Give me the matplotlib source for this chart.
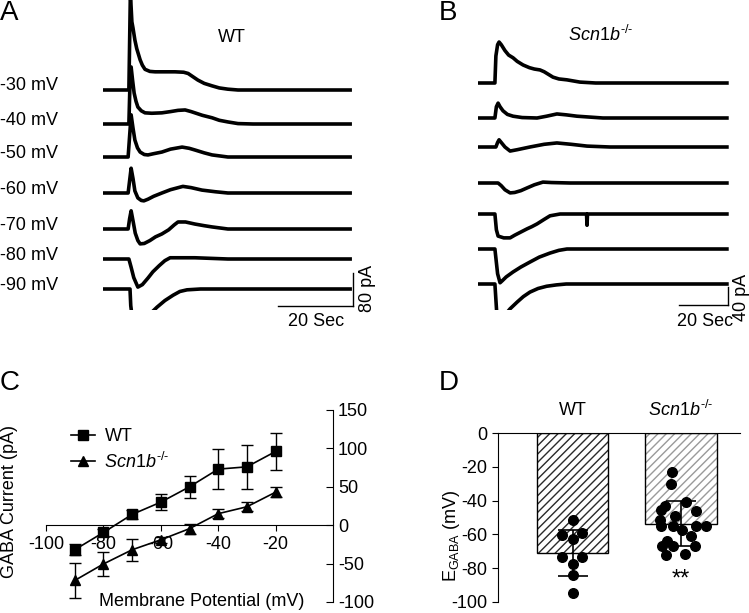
import matplotlib
matplotlib.use("Agg")
import matplotlib.pyplot as plt
import numpy as np

plt.rcParams['font.family'] = 'Liberation Sans'
plt.rcParams['mathtext.fontset'] = 'custom'
plt.rcParams['mathtext.rm'] = 'Liberation Sans'
plt.rcParams['mathtext.it'] = 'Liberation Sans:italic'
plt.rcParams['axes.unicode_minus'] = False
plt.rcParams['font.size'] = 13

W, H = 749, 613
KO = r'$\mathit{Scn1b}^{\text{-/-}}$'
FS = 13

# ---------- data ----------
# panel A (WT) traces: time (s) / current (pA)
wt_labels = ['-30 mV', '-40 mV', '-50 mV', '-60 mV', '-70 mV', '-80 mV', '-90 mV']
wt_t = [
    [0, 6.9, 7.3, 7.7, 8.0, 8.5, 9.0, 9.9, 10.5, 11.2, 12.5, 13.9, 19.2, 21.5, 22.7, 24.0, 25.3, 27.0,
     29.1, 31.0, 33.3, 36.0, 65.9],
    [0, 6.9, 7.2, 7.5, 7.9, 8.3, 8.8, 9.3, 10.2, 11.2, 13.0, 15.7, 18.0, 20.0, 21.9, 23.5, 24.5, 26.5,
     29.1, 31.0, 33.3, 36.0, 40.0, 65.9],
    [0, 6.7, 7.5, 8.0, 8.5, 9.2, 9.9, 11.0, 12.0, 13.5, 15.7, 18.0, 21.1, 23.0, 24.5, 27.0, 29.1, 33.3, 65.9],
    [0, 6.7, 7.1, 7.5, 8.0, 8.5, 9.3, 10.2, 10.9, 12.0, 13.5, 15.7, 18.0, 21.3, 23.5, 26.4, 30.0, 33.3, 65.9],
    [0, 6.7, 7.1, 7.5, 8.0, 8.6, 9.3, 9.9, 11.0, 12.5, 14.0, 15.7, 17.5, 19.0, 20.0, 22.0, 24.5, 27.0,
     29.1, 33.3, 65.9],
    [0, 6.9, 7.5, 8.2, 9.3, 10.5, 12.0, 13.3, 15.0, 16.5, 17.9, 24.5, 33.3, 65.9],
    [0, 7.2, 7.4, 7.8, 8.3, 9.1, 10.5, 12.0, 14.4, 16.5, 18.7, 20.5, 22.4, 26.0, 65.9],
]
wt_i = [
    [0, 0, 235, 165, 150, 121, 100, 73, 60, 50, 45, 44, 44, 43, 40, 32, 24, 16, 10, 5, 2, 0, 0],
    [0, 0, 100, 138, 105, 75, 55, 41, 32, 27, 26, 27, 30, 33, 34, 30, 27, 21, 15, 9, 5, 1, 0, 0],
    [0, 0, 102, 70, 41, 22, 12, 6, 5, 8, 12, 19, 24, 21, 17, 10, 5, 0, 0],
    [0, 0, 30, 60, 35, 5, -12, -18, -19, -15, -8, 0, 8, 16, 13, 7, 3, 0, 0],
    [0, 0, 25, 44, 20, -10, -28, -36, -35, -28, -19, -12, -2, 10, 17, 17, 12, 8, 5, 0, 0],
    [0, 0, -20, -45, -68, -62, -46, -31, -16, -4, 3, 3, 0, 0],
    [0, 0, -40, -70, -85, -92, -80, -65, -44, -28, -15, -6, -2, 0, 0],
]

# panel B (Scn1b-/-) traces
ko_t = [
    [0, 6.9, 7.3, 8.0, 8.6, 9.5, 11.0, 12.5, 14.3, 16.0, 18.4, 21.0, 23.0, 25.3, 27.0, 28.5, 30.6, 33.0,
     36.3, 41.6, 48.0, 101.6],
    [0, 6.9, 7.5, 8.2, 9.0, 10.2, 12.0, 14.3, 18.0, 24.1, 28.0, 32.2, 36.0, 40.4, 51.0, 101.6],
    [0, 7.3, 8.0, 8.6, 9.5, 11.0, 13.1, 16.0, 21.2, 27.0, 32.2, 38.0, 44.5, 53.9, 101.6],
    [0, 8.2, 9.5, 11.0, 13.1, 15.0, 17.5, 20.0, 23.0, 26.5, 30.0, 37.6, 101.6],
    [0, 6.9, 7.5, 8.2, 10.5, 13.1, 15.0, 17.5, 20.0, 22.0, 24.1, 27.0, 29.4, 33.5, 44.3, 44.5, 44.7, 101.6],
    [0, 6.9, 8.0, 9.0, 10.0, 11.5, 14.3, 17.5, 21.2, 25.0, 29.4, 33.0, 36.3, 101.6],
    [0, 6.9, 7.6, 8.2, 9.2, 10.5, 13.1, 16.0, 18.5, 21.2, 24.5, 28.0, 32.0, 36.0, 101.6],
]
ko_i = [
    [0, 0, 60, 85, 91, 85, 72, 62, 56, 48, 40, 34, 31, 29, 25, 20, 13, 9, 7, 2, 0, 0],
    [0, 0, 25, 33, 25, 16, 8, 4, 1, 0, 4, 9, 7, 4, 0, 0],
    [0, 0, 10, 16, 10, 0, -9, -6, 0, 6, 9, 6, 2, 0, 0],
    [0, 0, -6, -15, -22, -21, -17, -11, -4, 2, 1, 0, 0],
    [0, 0, -35, -49, -53, -53, -47, -40, -33, -28, -22, -12, -4, 0, 0, -25, 0, 0],
    [0, 0, -55, -75, -70, -62, -51, -40, -29, -18, -9, -3, 0, 0],
    [0, 0, -60, -95, -85, -72, -55, -40, -28, -18, -10, -5, -2, 0, 0],
]

# panel C: I-V
iv_v = [-90, -80, -70, -60, -50, -40, -30, -20]
iv_wt = [-32, -9.5, 14, 30, 50, 73, 76, 96]
iv_wt_err = [7, 5, 5.5, 10, 14.5, 26.5, 29, 24.5]
iv_ko = [-72, -50.5, -32, -19, -4.5, 15, 24, 43]
iv_ko_err = [23, 15.5, 14.5, 4, 6.5, 6, 6, 6.5]

# panel D: E_GABA
groups = ['WT', KO]
egaba_mean = [-71, -53.6]
egaba_sd = [13.6, 13.2]
wt_dots = [-51.7, -60.4, -59.2, -62.7, -73.6, -73.6, -77.5, -83.8, -94.7]
wt_dx = [0, -0.094, 0.09, 0, -0.094, 0.09, 0, 0, 0]
ko_dots = [-23.3, -30.2, -40.8, -43.0, -45.4, -46.4, -48.9, -51.3, -54.8, -54.8,
           -54.8, -54.8, -57.2, -60.7, -64.1, -67.1, -67.1, -67.1, -72.2, -71.4]
ko_dx = [-0.086, -0.092, 0.046, -0.147, -0.184, 0.138, -0.055, -0.194, -0.184, -0.077,
         0.138, 0.23, 0.006, 0.092, -0.132, -0.178, -0.071, 0.129, -0.138, 0.037]


def rect(x0, y0, x1, y1):
    return [x0 / W, 1 - y1 / H, (x1 - x0) / W, (y1 - y0) / H]


def ftext(x, y, s, **kw):
    fig.text(x / W, 1 - y / H, s, **kw)


fig = plt.figure(figsize=(W / 100, H / 100), dpi=100)

# ---------- A ----------
a_base = [90, 124, 157, 193, 229, 259, 289]
a_pa = 2.42   # pA per pixel
axA = fig.add_axes(rect(103, 0, 353, 310))
axA.set_xlim(0, 250 / 3.75)
axA.set_ylim(0, 310 * a_pa)
axA.axis('off')
for t, cur, b, lab in zip(wt_t, wt_i, a_base, wt_labels):
    off = (310 - b) * a_pa
    axA.plot(t, np.array(cur) + off, color='black', lw=2.6, solid_joinstyle='round')
    ftext(0, b - 4, lab, ha='left', va='center', fontsize=FS)
sb_y = (310 - 306) * a_pa
axA.plot([46.7, 66.7], [sb_y, sb_y], color='black', lw=1, clip_on=False)
axA.plot([66.7, 66.7], [sb_y, sb_y + 80], color='black', lw=1, clip_on=False)
ftext(316, 322, '20 Sec', ha='center', va='center', fontsize=FS)
ftext(367, 288, '80 pA', ha='center', va='center', rotation=90, fontsize=FS)
ftext(232, 38, 'WT', ha='center', va='center', fontsize=FS)

# ---------- B ----------
b_base = [83, 118, 147, 183, 214, 249, 284]
b_pa = 2.22
axB = fig.add_axes(rect(478, 0, 730, 310))
axB.set_xlim(0, 252 / 2.45)
axB.set_ylim(0, 310 * b_pa)
axB.axis('off')
for t, cur, b in zip(ko_t, ko_i, b_base):
    off = (310 - b) * b_pa
    axB.plot(t, np.array(cur) + off, color='black', lw=2.6, solid_joinstyle='round')
sb_y = (310 - 305) * b_pa
axB.plot([82.0, 102.0], [sb_y, sb_y], color='black', lw=1, clip_on=False)
axB.plot([102.0, 102.0], [sb_y, sb_y + 40], color='black', lw=1, clip_on=False)
ftext(705, 321, '20 Sec', ha='center', va='center', fontsize=FS)
ftext(741, 297, '40 pA', ha='center', va='center', rotation=90, fontsize=FS)
ftext(601, 35, KO, ha='center', va='center', fontsize=FS)

# ---------- C ----------
axC = fig.add_axes(rect(46, 410, 333, 602))
axC.set_xlim(-100, 0)
axC.set_ylim(-100, 150)
axC.spines['left'].set_visible(False)
axC.spines['top'].set_visible(False)
axC.spines['bottom'].set_position(('data', 0))
axC.yaxis.tick_right()
axC.set_yticks([-100, -50, 0, 50, 100, 150])
axC.set_xticks([-100, -80, -60, -40, -20])
axC.tick_params(axis='y', direction='in', length=5, labelsize=FS)
axC.tick_params(axis='x', direction='out', length=4, labelsize=FS)
axC.plot(iv_v, iv_wt, color='black', lw=1.2, marker='s', ms=7, label='WT', clip_on=False, zorder=3)
axC.plot(iv_v, iv_ko, color='black', lw=1.2, marker='^', ms=7.5, label=KO, clip_on=False, zorder=3)
axC.errorbar(iv_v, iv_wt, yerr=iv_wt_err, fmt='none', ecolor='black', elinewidth=1, capsize=4, clip_on=False)
axC.errorbar(iv_v, iv_ko, yerr=iv_ko_err, fmt='none', ecolor='black', elinewidth=1, capsize=4, clip_on=False)
axC.legend(loc='center left', bbox_to_anchor=(62 / W, 1 - 450 / H), bbox_transform=fig.transFigure,
           frameon=False, fontsize=FS, handlelength=1.3, handletextpad=0.55, labelspacing=0.35,
           borderpad=0)
ftext(10, 501, 'GABA Current (pA)', ha='center', va='center', rotation=90, fontsize=FS)
ftext(202, 601, 'Membrane Potential (mV)', ha='center', va='center', fontsize=FS)

# ---------- D ----------
axD = fig.add_axes(rect(498, 433, 740, 602))
axD.set_xlim(-0.687, 1.544)
axD.set_ylim(-100, 0)
axD.spines['right'].set_visible(False)
axD.spines['bottom'].set_visible(False)
axD.set_xticks([])
axD.set_yticks([-100, -80, -60, -40, -20, 0])
axD.tick_params(axis='y', direction='out', length=4, labelsize=FS)
xpos = np.arange(len(groups))
hatch_cols = ['#2a2a2a', '#9a9a9a']
for x, m, hc in zip(xpos, egaba_mean, hatch_cols):
    axD.bar(x, m, width=0.655, color='white', edgecolor=hc, hatch='////', lw=0, zorder=1)
    axD.bar(x, m, width=0.655, fill=False, edgecolor='black', lw=1, zorder=2)
axD.errorbar(xpos, egaba_mean, yerr=egaba_sd, fmt='none', ecolor='black', elinewidth=1.2,
             capsize=11, capthick=1.2, zorder=4)
axD.scatter(np.array(wt_dx) + xpos[0], wt_dots, s=48, color='black', zorder=5, clip_on=False)
axD.scatter(np.array(ko_dx) + xpos[1], ko_dots, s=48, color='black', zorder=5, clip_on=False)
for x, g in zip(xpos, groups):
    axD.text(x, 1.136, g, transform=axD.get_xaxis_transform(), ha='center', va='center', fontsize=FS)
axD.text(1, -87, '**', ha='center', va='center', fontsize=17)
ftext(451, 536, r'E$_{\mathregular{GABA}}$ (mV)', ha='center', va='center', rotation=90, fontsize=FS)

# panel letters
ftext(0, 0, 'A', ha='left', va='top', fontsize=20)
ftext(439, 0, 'B', ha='left', va='top', fontsize=20)
ftext(0, 370, 'C', ha='left', va='top', fontsize=20)
ftext(439, 370, 'D', ha='left', va='top', fontsize=20)

fig.savefig('out.png', dpi=100)
